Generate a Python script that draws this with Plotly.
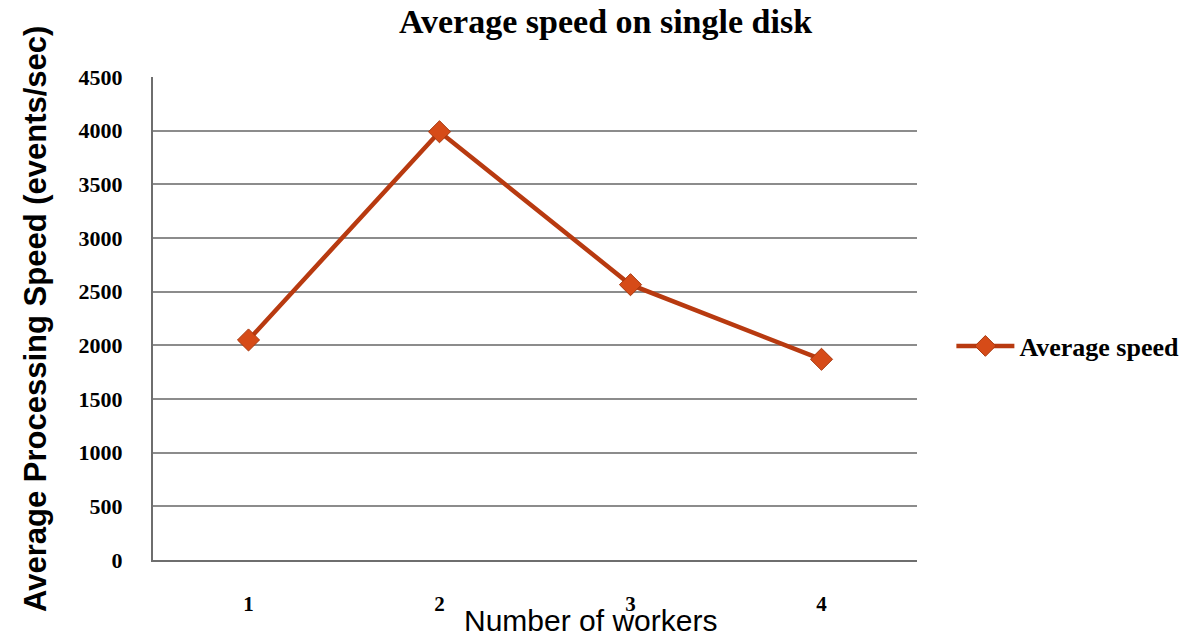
import plotly.graph_objects as go

# Average processing speed measured for each worker count
workers = ["1", "2", "3", "4"]
avg_speed = [2050, 3990, 2565, 1870]
y_ticks = [0, 500, 1000, 1500, 2000, 2500, 3000, 3500, 4000, 4500]

serif = "Liberation Serif, Times New Roman, serif"
sans = "Liberation Sans, Arial, sans-serif"

fig = go.Figure()
fig.add_trace(go.Scatter(
    x=workers,
    y=avg_speed,
    mode="lines+markers",
    name="Average speed",
    line=dict(color="#B83A10", width=4.5),
    marker=dict(symbol="diamond", size=17, color="#D64B18",
                line=dict(color="#A8380E", width=1)),
))

fig.update_layout(
    width=1198,
    height=636,
    margin=dict(l=153, r=281, t=77, b=76),
    plot_bgcolor="white",
    paper_bgcolor="white",
    showlegend=True,
    legend=dict(
        x=1.045, y=0.443, xanchor="left", yanchor="middle",
        font=dict(family=serif, size=26, color="black", weight="bold"),
        bgcolor="rgba(0,0,0,0)",
        itemwidth=58,
    ),
    annotations=[
        dict(text="Average speed on single disk", xref="paper", yref="paper",
             x=(605 - 153) / 764, y=1 + (77 - 22) / 483, xanchor="center", yanchor="middle",
             showarrow=False,
             font=dict(family=serif, size=34, color="black", weight="bold")),
        dict(text="Average Processing Speed (events/sec)", xref="paper", yref="paper",
             x=(35 - 153) / 764, y=(560 - 319) / 483, xanchor="center", yanchor="middle",
             textangle=-90, showarrow=False,
             font=dict(family=sans, size=31, color="black", weight="bold")),
        dict(text="Number of workers", xref="paper", yref="paper",
             x=(590 - 153) / 764, y=-(620 - 560) / 483, xanchor="center", yanchor="middle",
             showarrow=False, font=dict(family=sans, size=30, color="black")),
    ],
)

fig.update_xaxes(
    type="category",
    range=[-0.5, len(workers) - 0.5],
    showgrid=False,
    showline=True, linecolor="#6E6E6E", linewidth=2,
    ticks="", ticklabelstandoff=24,
    tickfont=dict(family=serif, size=21, color="black", weight="bold"),
)
fig.update_yaxes(
    range=[0, 4500],
    tickvals=y_ticks,
    showgrid=True, gridcolor="#8C8C8C", gridwidth=2,
    showline=True, linecolor="#6E6E6E", linewidth=2,
    zeroline=False,
    ticks="", ticklabelstandoff=24,
    tickfont=dict(family=serif, size=22, color="black", weight="bold"),
)

fig.write_html("out.html")
